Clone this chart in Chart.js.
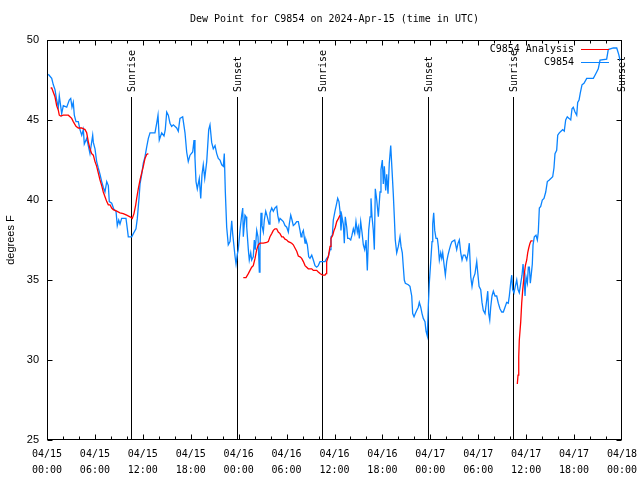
<!DOCTYPE html>
<html>
<head>
<meta charset="utf-8">
<script src="https://cdn.jsdelivr.net/npm/chart.js@4/dist/chart.umd.min.js"></script>
<style>
html,body{margin:0;padding:0;background:#fff;}
#c{display:block;}
</style>
</head>
<body>
<canvas id="c" width="640" height="480"></canvas>
<script>
// ---- data (hours since 2024-04-15 00:00 UTC, dew point in deg F) ----
const chartTitle = "Dew Point for C9854 on 2024-Apr-15 (time in UTC)";
const yAxisLabel = "degrees F";
const seriesNames = ["C9854 Analysis", "C9854"];

const stationHours = [0.16,0.59,0.79,1.00,1.21,1.42,1.54,1.84,2.04,2.47,2.79,2.97,3.13,3.29,3.42,3.63,3.92,4.13,4.35,4.55,4.67,4.97,5.17,5.38,5.72,5.80,6.01,6.22,6.42,6.64,6.85,7.05,7.26,7.48,7.68,7.80,8.10,8.39,8.64,8.80,8.98,9.14,9.35,9.89,10.06,10.18,10.61,10.81,11.14,11.31,11.52,11.65,11.86,12.06,12.27,12.48,12.69,12.90,13.52,13.74,13.90,14.06,14.36,14.65,14.81,14.99,15.19,15.40,15.61,15.82,16.24,16.44,16.65,16.99,17.28,17.49,17.69,17.91,18.24,18.41,18.53,18.66,18.82,19.07,19.25,19.41,19.57,19.75,20.00,20.25,20.41,20.62,20.82,21.04,21.25,21.45,21.66,21.88,22.08,22.20,22.33,22.50,22.70,22.92,23.13,23.25,23.54,23.67,23.83,23.95,24.17,24.38,24.51,24.58,24.79,24.92,25.01,25.21,25.33,25.51,25.63,25.83,25.96,26.08,26.26,26.42,26.59,26.67,26.80,26.92,27.09,27.21,27.39,27.59,27.80,27.92,28.14,28.34,28.55,28.76,28.89,29.05,29.18,29.39,29.59,29.80,30.02,30.22,30.34,30.52,30.68,30.84,31.05,31.27,31.47,31.68,31.81,31.93,32.10,32.31,32.43,32.60,32.77,32.93,33.15,33.35,33.56,33.77,33.97,34.19,34.47,34.81,35.02,35.22,35.44,35.56,35.73,35.85,36.06,36.28,36.40,36.56,36.69,36.81,36.94,37.10,37.23,37.35,37.53,37.65,37.82,38.03,38.19,38.36,38.53,38.69,38.86,38.98,39.11,39.28,39.44,39.61,39.78,39.95,40.11,40.28,40.45,40.57,40.70,40.86,40.99,41.11,41.29,41.49,41.70,41.82,41.99,42.11,42.24,42.41,42.54,42.70,42.86,43.04,43.20,43.36,43.49,43.61,43.79,43.99,44.20,44.33,44.49,44.62,44.74,44.87,45.24,45.45,45.67,45.79,45.96,46.12,46.29,46.49,46.62,46.80,46.96,47.12,47.33,47.46,47.62,47.75,47.87,48.05,48.21,48.30,48.42,48.55,48.71,48.88,49.00,49.13,49.30,49.43,49.55,49.71,49.88,50.05,50.21,50.38,50.55,50.71,51.05,51.30,51.47,51.63,51.81,51.97,52.13,52.34,52.56,52.72,52.88,53.06,53.22,53.38,53.59,53.81,53.93,54.10,54.31,54.47,54.63,54.85,55.06,55.19,55.31,55.44,55.56,55.72,55.89,56.10,56.31,56.51,56.72,56.94,57.14,57.35,57.56,57.76,57.89,58.06,58.19,58.31,58.48,58.64,58.82,58.98,59.14,59.32,59.48,59.61,59.73,59.86,59.98,60.15,60.27,60.40,60.52,60.65,60.77,60.86,61.02,61.23,61.40,61.52,61.65,61.82,62.02,62.23,62.45,62.65,62.90,63.32,63.48,63.61,63.82,63.95,64.15,64.36,64.57,64.77,64.95,65.15,65.37,65.58,65.74,65.90,66.12,66.33,66.45,66.62,66.78,66.99,67.24,67.58,68.41,68.62,68.83,69.03,69.25,70.08,70.28,70.91,71.34,71.59,71.75];
const stationDew = [47.86,47.6,47.2,46.9,46.25,45.8,46.5,45.4,45.9,45.8,46.25,46.35,45.8,46.1,45.3,44.9,44.9,44.4,44.05,44.4,43.5,43.85,43.4,42.9,44.05,43.6,43.2,42.4,42.0,41.6,41.15,40.8,40.5,41.15,40.9,39.9,39.8,39.4,39.3,38.4,38.75,38.5,38.85,38.85,38.2,37.7,37.7,37.9,38.2,38.85,40.1,41.0,41.6,42.3,42.7,43.3,43.85,44.2,44.2,44.8,45.3,43.75,44.2,44.0,44.4,45.5,45.3,44.8,44.6,44.7,44.5,44.3,45.1,45.2,44.2,43.0,42.4,42.8,43.0,43.75,42.6,41.15,40.7,41.35,40.1,41.6,42.2,41.35,42.4,44.4,44.7,43.6,43.2,43.4,42.9,42.6,42.5,42.2,42.1,42.9,40.5,38.3,37.2,37.4,38.7,37.9,36.5,36.0,36.6,36.9,38.1,39.05,39.5,37.7,39.05,38.95,38.3,36.9,36.25,36.7,36.25,36.45,37.5,36.9,38.1,37.7,35.5,36.9,39.2,38.4,38.0,38.75,39.3,38.95,38.5,39.2,39.5,39.3,39.5,39.6,39.05,38.65,38.85,38.75,38.65,38.4,38.3,38.0,38.5,39.05,38.75,38.4,38.5,38.65,38.65,38.1,37.7,37.9,38.1,37.3,37.5,37.2,36.45,36.35,36.55,36.25,35.9,35.8,35.9,36.15,36.15,36.15,36.35,36.45,36.9,37.7,37.8,38.75,39.3,39.8,40.1,39.9,39.3,38.1,38.95,38.5,37.3,38.95,38.3,37.6,37.6,37.5,37.8,38.2,37.9,38.65,38.0,38.3,37.6,38.65,38.0,37.2,36.9,37.5,35.6,38.1,38.95,40.1,38.95,38.1,36.9,40.7,40.0,38.95,40.5,41.9,42.5,41.0,42.1,40.6,41.6,40.4,42.3,43.4,41.9,40.4,38.95,37.5,36.7,37.1,37.7,37.1,36.7,35.8,35.0,34.8,34.7,34.6,34.0,32.9,32.7,32.9,33.1,33.3,33.6,33.3,32.9,32.6,32.4,31.8,31.5,33.4,34.8,36.15,37.4,38.5,39.2,38.1,37.6,37.6,37.1,36.25,36.7,36.35,36.7,36.0,35.3,36.15,36.55,36.9,37.2,37.4,37.5,36.9,37.3,37.5,36.7,36.25,36.55,36.55,36.25,36.7,37.3,35.2,34.6,35.1,35.4,36.15,35.5,34.6,34.4,33.6,33.1,32.9,33.75,34.3,32.9,32.5,33.3,34.0,34.3,34.0,34.0,33.55,33.2,33.0,33.0,33.3,33.6,33.55,34.0,34.8,35.3,34.4,34.2,34.6,35.0,34.4,34.2,34.8,35.3,36.0,35.2,34.0,35.2,34.8,35.8,35.8,34.8,35.4,36.0,37.2,37.7,37.8,37.5,38.0,39.5,39.6,40.0,40.1,40.5,41.15,41.25,41.45,42.0,42.9,43.1,44.05,44.2,44.3,44.4,44.3,45.0,45.2,45.1,45.0,45.7,45.8,45.5,45.3,46.1,46.25,46.7,47.2,47.3,47.6,47.6,47.8,48.0,48.2,48.75,48.8,49.4,49.5,49.5,49.1,48.75];

const analysisHours = [0.46,0.59,1.00,1.21,1.42,1.54,1.72,2.04,2.67,3.09,3.29,3.63,3.92,4.35,4.76,4.97,5.17,5.38,5.60,5.80,6.01,6.22,6.42,6.64,6.85,7.05,7.26,7.48,7.68,7.89,8.10,8.30,8.73,9.14,9.55,9.98,10.39,10.68,10.89,11.11,11.23,11.43,11.65,11.86,12.06,12.27,12.48,12.69,
  18.0,
  24.58,24.92,25.21,25.42,25.63,25.83,26.05,26.26,26.46,26.67,27.09,27.51,27.71,27.92,28.14,28.34,28.55,28.76,28.96,29.18,29.39,29.59,29.80,30.02,30.22,30.43,30.64,30.84,31.05,31.27,31.47,31.68,31.89,32.10,32.31,32.52,32.72,33.15,33.35,33.77,33.97,34.19,34.52,34.81,34.94,35.02,35.22,35.44,35.56,35.78,35.94,36.10,36.28,36.50,36.69,
  48.0,
  58.89,58.98,59.07,59.14,59.32,59.44,59.57,59.73,59.90,60.07,60.19,60.32,60.48,60.61,60.82];
const analysisDew = [47.0,47.0,46.45,45.9,45.6,45.3,45.25,45.3,45.3,45.1,44.9,44.6,44.5,44.5,44.4,44.2,43.65,43.2,42.9,42.8,42.4,42.1,41.7,41.25,40.9,40.5,40.2,39.9,39.7,39.7,39.5,39.4,39.3,39.2,39.15,39.05,38.95,38.85,39.15,39.7,40.1,40.7,41.25,41.7,42.1,42.6,42.85,42.9,
  null,
  35.15,35.15,35.4,35.6,35.8,35.9,36.35,36.9,37.2,37.3,37.3,37.35,37.4,37.7,37.9,38.1,38.2,38.2,38.0,37.9,37.7,37.7,37.55,37.5,37.4,37.35,37.3,37.2,37.0,36.8,36.5,36.45,36.35,36.15,35.9,35.8,35.7,35.7,35.6,35.6,35.5,35.4,35.3,35.3,35.4,36.15,36.45,37.1,37.6,37.8,38.1,38.3,38.65,38.85,39.05,
  null,
  28.5,29.05,30.2,31.25,32.4,33.55,34.4,35.2,35.9,36.25,36.7,37.0,37.3,37.45,37.45];

const sunHours  = [10.55, 23.82, 34.47, 47.75, 58.39, 71.82];
const sunLabels = ["Sunrise","Sunset","Sunrise","Sunset","Sunrise","Sunset"];

const yTicks = [25, 30, 35, 40, 45, 50];
const xTickHours = [0, 6, 12, 18, 24, 30, 36, 42, 48, 54, 60, 66, 72];
const dayLabels = ["04/15", "04/16", "04/17", "04/18"];

// ---- build datasets ----
function pts(xs, ys){ return xs.map((x,i)=>({x:x, y:ys[i]})); }

const MONO = '"DejaVu Sans Mono", "Liberation Mono", monospace';
const SANS = '"Liberation Sans", Arial, sans-serif';

const decor = {
  id: 'decor',
  beforeDatasetsDraw(chart){
    const ctx = chart.ctx, a = chart.chartArea, xs = chart.scales.x;
    ctx.save();
    ctx.strokeStyle = '#000'; ctx.lineWidth = 1;
    ctx.fillStyle = '#000';
    ctx.font = '10px ' + MONO;
    sunHours.forEach((h,i)=>{
      const px = Math.round(xs.getPixelForValue(h)) + 0.5;
      ctx.beginPath(); ctx.moveTo(px, 97); ctx.lineTo(px, a.bottom); ctx.stroke();
      ctx.save();
      ctx.translate(px + 1, 92);
      ctx.rotate(-Math.PI/2);
      ctx.textAlign = 'left'; ctx.textBaseline = 'middle';
      ctx.fillText(sunLabels[i], 0, 0);
      ctx.restore();
    });
    ctx.restore();
  },
  afterDatasetsDraw(chart){
    const ctx = chart.ctx, a = chart.chartArea, xs = chart.scales.x, ys = chart.scales.y;
    ctx.save();
    ctx.strokeStyle = '#000'; ctx.lineWidth = 1;
    const L = Math.round(a.left)+0.5, R = Math.round(a.right)-0.5, T = Math.round(a.top)+0.5, B = Math.round(a.bottom)-0.5;
    ctx.strokeRect(L, T, R-L, B-T);
    // x ticks every 2 h (inward, top & bottom)
    for (let h = 2; h < 72; h += 2){
      const px = Math.round(xs.getPixelForValue(h)) + 0.5;
      const len = (h % 6 === 0) ? 5 : 3;
      ctx.beginPath();
      ctx.moveTo(px, B); ctx.lineTo(px, B - len);
      ctx.moveTo(px, T); ctx.lineTo(px, T + len);
      ctx.stroke();
    }
    // y ticks (inward, left & right)
    yTicks.forEach(v=>{
      const py = Math.round(ys.getPixelForValue(v)) + 0.5;
      ctx.beginPath();
      ctx.moveTo(L, py); ctx.lineTo(L + 5, py);
      ctx.moveTo(R, py); ctx.lineTo(R - 5, py);
      ctx.stroke();
    });
    // title
    ctx.fillStyle = '#000';
    ctx.font = '10px ' + MONO;
    ctx.textAlign = 'center'; ctx.textBaseline = 'middle';
    ctx.fillText(chartTitle, (a.left + a.right)/2, 19);
    // legend (text right, line sample)
    ctx.textAlign = 'right';
    chart.data.datasets.forEach((ds, i)=>{
      const y = 49.5 + i*13;
      ctx.fillStyle = '#000';
      ctx.fillText(ds.label, 574, y);
      ctx.strokeStyle = ds.borderColor;
      ctx.beginPath(); ctx.moveTo(581, y); ctx.lineTo(609, y); ctx.stroke();
    });
    ctx.restore();
  }
};

new Chart(document.getElementById('c'), {
  type: 'scatter',
  data: {
    datasets: [
      { label: seriesNames[0], data: pts(analysisHours, analysisDew), showLine: true, borderColor: '#ff0000', backgroundColor: '#ff0000', borderWidth: 1.3, pointRadius: 0, spanGaps: false, tension: 0 },
      { label: seriesNames[1], data: pts(stationHours, stationDew), showLine: true, borderColor: '#0a84ff', backgroundColor: '#0a84ff', borderWidth: 1.3, pointRadius: 0, spanGaps: false, tension: 0 }
    ]
  },
  options: {
    responsive: false,
    animation: false,
    devicePixelRatio: 1,
    layout: { padding: { top: 40, right: 18, left: 0, bottom: 0 } },
    plugins: { legend: { display: false }, title: { display: false }, tooltip: { enabled: false } },
    scales: {
      x: {
        type: 'linear', min: 0, max: 72,
        afterFit(s){ s.height = 40; s.paddingLeft = 0; s.paddingRight = 0; },
        afterBuildTicks(s){ s.ticks = xTickHours.map(v=>({value:v})); },
        grid: { display: false, drawTicks: false },
        border: { display: false },
        ticks: {
          autoSkip: false, maxRotation: 0, padding: 6, color: '#000',
          font: { family: MONO, size: 10, lineHeight: 1.6 },
          callback(v){ const d = Math.floor(v/24); const hh = v % 24; return [dayLabels[d], (hh<10?'0':'')+hh+':00']; }
        }
      },
      y: {
        min: 25, max: 50,
        afterFit(s){ s.width = 47; s.paddingTop = 0; s.paddingBottom = 0; },
        afterBuildTicks(s){ s.ticks = yTicks.map(v=>({value:v})); },
        grid: { display: false, drawTicks: false },
        border: { display: false },
        ticks: { padding: 8, color: '#000', font: { family: SANS, size: 11 } },
        title: { display: true, text: yAxisLabel, color: '#000', font: { family: SANS, size: 11 }, padding: { top: 4, bottom: 0 } }
      }
    }
  },
  plugins: [decor]
});
</script>
</body>
</html>
